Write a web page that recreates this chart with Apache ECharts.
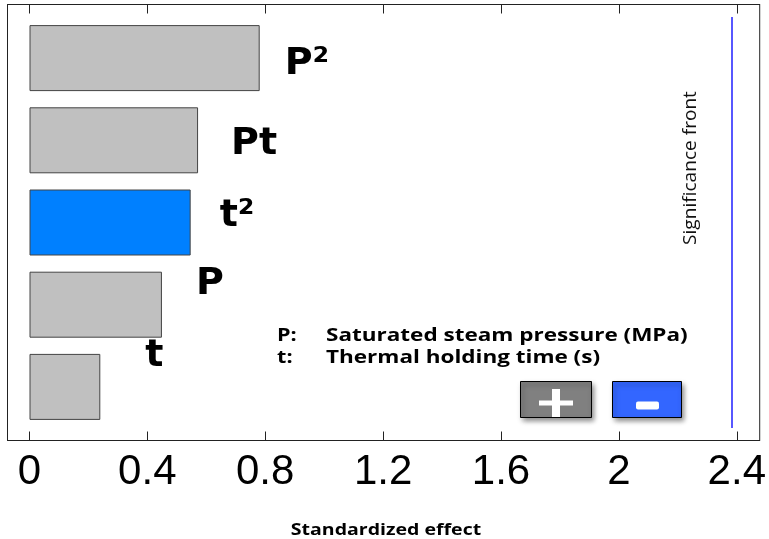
<!DOCTYPE html>
<html>
<head>
<meta charset="utf-8">
<script src="https://cdn.jsdelivr.net/npm/echarts@6/dist/echarts.min.js"></script>
<style>html,body{margin:0;padding:0;background:#fff}#c{width:769px;height:539px}</style>
</head>
<body>
<div id="c"></div>
<script>
// Data
var factors = ['P\u00b2', 'Pt', 't\u00b2', 'P', 't'];
var effects = [0.777, 0.569, 0.544, 0.447, 0.239];
var signs = ['+', '+', '-', '+', '+'];
var tickValues = [0, 0.4, 0.8, 1.2, 1.6, 2, 2.4];
var significance = 2.37;
var legendKeys = ['P:', 't:'];
var legendTexts = ['Saturated steam pressure (MPa)', 'Thermal holding time (s)'];
var axisTitle = 'Standardized effect';
var lineTitle = 'Significance front';

// Layout / style
var labelOffsets = [[25, 6], [33, 4], [29, -6], [34, -21], [45, -31]];
var xMin = -0.0743, xMax = 2.4777;
var chart = echarts.init(document.getElementById('c'));

var barData = effects.map(function (v, i) {
  return {
    value: v,
    itemStyle: { color: signs[i] === '-' ? '#0080ff' : '#c0c0c0' },
    label: { distance: labelOffsets[i][0], offset: [0, labelOffsets[i][1]] }
  };
});

var legendGraphics = [];
legendKeys.forEach(function (k, i) {
  legendGraphics.push({ type: 'text', x: 277, y: 336 + i * 22, scaleX: 1.2,
    style: { text: k, font: 'bold 18px "Open Sans"', fill: '#000', verticalAlign: 'middle' } });
  legendGraphics.push({ type: 'text', x: 326, y: 336 + i * 22, scaleX: 1.25,
    style: { text: legendTexts[i], font: 'bold 18px "Open Sans"', fill: '#000', verticalAlign: 'middle' } });
});

var option = {
  animation: false,
  grid: [
    { left: 7.5, right: 5.5, top: 4.5, bottom: 98.5, show: true, borderColor: '#222', borderWidth: 1, backgroundColor: 'transparent' },
    { left: 7.5, right: 5.5, top: 17, height: 411 }
  ],
  xAxis: [
    {
      gridIndex: 0, type: 'value', min: xMin, max: xMax, position: 'bottom',
      axisLine: { show: true, onZero: false, lineStyle: { color: '#222', width: 1 } },
      axisTick: { show: true, inside: true, length: 9, customValues: tickValues, lineStyle: { color: '#222' } },
      axisLabel: { customValues: tickValues, margin: 11, fontSize: 42, fontFamily: 'Liberation Sans', color: '#000',
        formatter: function (v) { return String(+v.toFixed(1)); } },
      splitLine: { show: false }
    },
    {
      gridIndex: 0, type: 'value', min: xMin, max: xMax, position: 'top',
      axisLine: { show: true, onZero: false, lineStyle: { color: '#222', width: 1 } },
      axisTick: { show: true, inside: true, length: 9, customValues: tickValues, lineStyle: { color: '#222' } },
      axisLabel: { show: false }, splitLine: { show: false }
    },
    {
      gridIndex: 1, type: 'value', min: xMin, max: xMax, show: false, splitLine: { show: false }
    }
  ],
  yAxis: [
    { gridIndex: 0, type: 'value', min: 0, max: 1, show: false, splitLine: { show: false } },
    { gridIndex: 1, type: 'category', data: factors, inverse: true, show: false }
  ],
  series: [
    {
      type: 'bar', xAxisIndex: 2, yAxisIndex: 1, barWidth: 66,
      data: barData,
      itemStyle: { borderColor: '#444', borderWidth: 1 },
      label: { show: true, position: 'right', formatter: '{b}', fontSize: 38, fontWeight: 'bold', fontFamily: 'DejaVu Sans', color: '#000' },
      markLine: {
        silent: true, symbol: ['none', 'none'], label: { show: false },
        lineStyle: { color: '#1f1fff', width: 1.5, type: 'solid', opacity: 1 },
        data: [{ xAxis: significance, lineStyle: { color: '#1f1fff', width: 1.5 } }]
      }
    }
  ],
  graphic: legendGraphics.concat([
    { type: 'text', x: 691, y: 168, rotation: Math.PI / 2, scaleX: 1.06,
      style: { text: lineTitle, font: '18px "Open Sans"', fill: '#111', align: 'center', verticalAlign: 'middle' } },
    { type: 'text', x: 386, y: 530, scaleX: 1.22,
      style: { text: axisTitle, font: 'bold 16px "Open Sans"', fill: '#000', align: 'center', verticalAlign: 'middle' } },
    { type: 'rect', shape: { x: 520.5, y: 381.5, width: 71, height: 36 },
      style: { fill: '#808080', stroke: '#000', lineWidth: 1, shadowBlur: 5, shadowOffsetX: 2, shadowOffsetY: 3, shadowColor: 'rgba(0,0,0,0.45)' } },
    { type: 'rect', shape: { x: 539, y: 400.5, width: 34, height: 5 }, style: { fill: '#fff' } },
    { type: 'rect', shape: { x: 552, y: 389, width: 8, height: 28 }, style: { fill: '#fff' } },
    { type: 'rect', shape: { x: 612.5, y: 381.5, width: 69, height: 36 },
      style: { fill: '#3366ff', stroke: '#000', lineWidth: 1, shadowBlur: 5, shadowOffsetX: 2, shadowOffsetY: 3, shadowColor: 'rgba(0,0,0,0.45)' } },
    { type: 'rect', shape: { x: 636, y: 401.5, width: 23, height: 8, r: 2 }, style: { fill: '#fff' } }
  ])
};
chart.setOption(option);
</script>
</body>
</html>
